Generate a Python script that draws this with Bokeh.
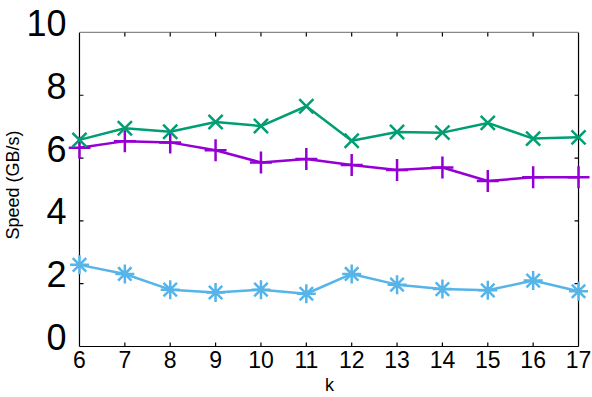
from bokeh.plotting import figure
from bokeh.models import LinearAxis, FixedTicker, Range1d
from bokeh.embed import file_html
from bokeh.resources import INLINE

k = [6, 7, 8, 9, 10, 11, 12, 13, 14, 15, 16, 17]
green_vals = [6.58, 6.95, 6.84, 7.15, 7.02, 7.65, 6.55, 6.83, 6.81, 7.12, 6.62, 6.66]
purple_vals = [6.33, 6.54, 6.50, 6.25, 5.86, 5.97, 5.78, 5.62, 5.70, 5.27, 5.39, 5.39]
blue_vals = [2.60, 2.31, 1.81, 1.72, 1.81, 1.68, 2.31, 1.97, 1.83, 1.79, 2.10, 1.76]
y_ticks = [0, 2, 4, 6, 8, 10]
x_ticks = k

FONT = "Liberation Sans"
X0, X1 = 6, 17
Y0, Y1 = 0, 10
# padding around the drawn box (in data units) so markers at the edges are not clipped
PAD_L, PAD_R, PAD_B, PAD_T = 0.242, 0.264, 0.063, 0.349
LABEL_SHIFT = 0.30  # gnuplot places y tick labels slightly above the tick
TICK_X, TICK_Y = 0.088, 0.127  # inward tick lengths in data units

p = figure(width=592, height=397, output_backend="svg", toolbar_location=None,
           x_range=Range1d(X0 - PAD_L, X1 + PAD_R),
           y_range=Range1d(Y0 - PAD_B, Y1 + PAD_T),
           min_border_left=67, min_border_right=2, min_border_top=21, min_border_bottom=48,
           x_axis_location=None, y_axis_location=None)
p.extra_y_ranges = {"lab": Range1d(Y0 - PAD_B - LABEL_SHIFT, Y1 + PAD_T - LABEL_SHIFT)}
p.grid.visible = False
p.outline_line_color = None
p.background_fill_color = "white"
p.border_fill_color = "white"

left = LinearAxis(axis_label="Speed (GB/s)", y_range_name="lab",
                  ticker=FixedTicker(ticks=y_ticks))
left.axis_line_color = None
left.major_tick_line_color = None
left.minor_tick_line_color = None
left.major_tick_in = 0
left.major_tick_out = 0
left.major_label_text_font = FONT
left.major_label_text_font_size = "36px"
left.major_label_text_color = "black"
left.major_label_standoff = 2
left.axis_label_text_font = FONT
left.axis_label_text_font_size = "18px"
left.axis_label_text_font_style = "normal"
left.axis_label_text_color = "black"
left.axis_label_standoff = 0

bottom = LinearAxis(axis_label="k", ticker=FixedTicker(ticks=x_ticks))
bottom.axis_line_color = None
bottom.major_tick_line_color = None
bottom.minor_tick_line_color = None
bottom.major_tick_in = 0
bottom.major_tick_out = 0
bottom.major_label_text_font = FONT
bottom.major_label_text_font_size = "23px"
bottom.major_label_text_color = "black"
bottom.major_label_standoff = 2
bottom.axis_label_text_font = FONT
bottom.axis_label_text_font_size = "18px"
bottom.axis_label_text_font_style = "normal"
bottom.axis_label_text_color = "black"
bottom.axis_label_standoff = 4

p.add_layout(left, "left")
p.add_layout(bottom, "below")

# plot box: black left/right/bottom, grey top (as in the reference)
p.segment(x0=[X0, X1, X0], y0=[Y0, Y0, Y0], x1=[X0, X1, X1], y1=[Y1, Y1, Y0],
          line_color="black", line_width=1.2)
p.segment(x0=[X0], y0=[Y1], x1=[X1], y1=[Y1], line_color="#888888", line_width=1.2)

# inward tick marks on all four sides
inner_x = x_ticks[1:-1]
inner_y = y_ticks[1:-1]
nx, ny = len(inner_x), len(inner_y)
tick_style = dict(line_color="black", line_width=1.2)
p.segment(x0=inner_x, y0=[Y0] * nx, x1=inner_x, y1=[Y0 + TICK_Y] * nx, **tick_style)
p.segment(x0=inner_x, y0=[Y1] * nx, x1=inner_x, y1=[Y1 - TICK_Y] * nx, **tick_style)
p.segment(x0=[X0] * ny, y0=inner_y, x1=[X0 + TICK_X] * ny, y1=inner_y, **tick_style)
p.segment(x0=[X1] * ny, y0=inner_y, x1=[X1 - TICK_X] * ny, y1=inner_y, **tick_style)

blue = "#56b4e9"
purple = "#9400d3"
green = "#009e73"

p.line(k, blue_vals, line_color=blue, line_width=2.5)
p.scatter(k, blue_vals, marker="asterisk", size=19, line_color=blue, line_width=2.5)
p.line(k, purple_vals, line_color=purple, line_width=2.5)
p.scatter(k, purple_vals, marker="cross", size=22, line_color=purple, line_width=2.5)
p.line(k, green_vals, line_color=green, line_width=2.5)
p.scatter(k, green_vals, marker="x", size=20, line_color=green, line_width=2.5)

open("out.html", "w").write(file_html(p, INLINE))
